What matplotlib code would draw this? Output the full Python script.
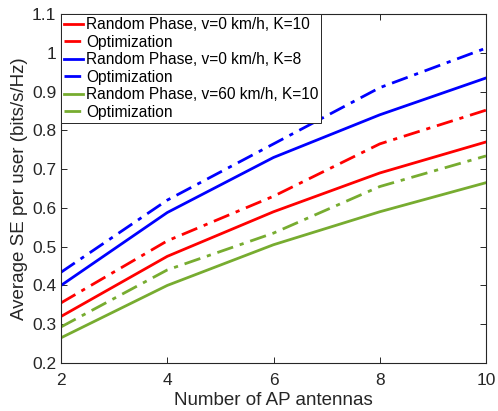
import matplotlib
matplotlib.use("Agg")
import matplotlib.pyplot as plt
import numpy as np

plt.rcParams['font.family'] = ['Liberation Sans', 'DejaVu Sans']

# data
antennas = [2, 4, 6, 8, 10]
rp_v0_k10 = [0.320, 0.475, 0.590, 0.690, 0.770]
opt_v0_k10 = [0.355, 0.515, 0.630, 0.765, 0.852]
rp_v0_k8 = [0.400, 0.588, 0.730, 0.840, 0.935]
opt_v0_k8 = [0.434, 0.620, 0.765, 0.910, 1.012]
rp_v60_k10 = [0.265, 0.400, 0.505, 0.590, 0.665]
opt_v60_k10 = [0.293, 0.440, 0.535, 0.655, 0.734]

labels = ["Random Phase, v=0 km/h, K=10", "Optimization",
          "Random Phase, v=0 km/h, K=8", "Optimization",
          "Random Phase, v=60 km/h, K=10", "Optimization"]

red = "#FF0000"
blue = "#0000FF"
green = "#77AC30"
axcol = "#262626"

fig = plt.figure(figsize=(4.98, 4.11), dpi=100)
ax = fig.add_axes([61/498, 1 - 363/411, 425/498, 349/411])

lw = 2.0
dashdot = (0, (6, 2.5, 1.5, 2.5))
ax.plot(antennas, rp_v0_k10, color=red, lw=lw, label=labels[0])
ax.plot(antennas, opt_v0_k10, color=red, lw=lw, ls=dashdot, label=labels[1])
ax.plot(antennas, rp_v0_k8, color=blue, lw=lw, label=labels[2])
ax.plot(antennas, opt_v0_k8, color=blue, lw=lw, ls=dashdot, label=labels[3])
ax.plot(antennas, rp_v60_k10, color=green, lw=lw, label=labels[4])
ax.plot(antennas, opt_v60_k10, color=green, lw=lw, ls=dashdot, label=labels[5])

ax.set_xlim(2, 10)
ax.set_ylim(0.2, 1.1)
ax.set_xticks([2, 4, 6, 8, 10])
ax.set_yticks(np.arange(0.2, 1.11, 0.1))
ax.set_yticklabels(["0.2", "0.3", "0.4", "0.5", "0.6", "0.7", "0.8", "0.9", "1", "1.1"])

ax.tick_params(direction="in", top=True, right=True, labelsize=12.5,
               colors=axcol, length=4, width=0.7)
ax.tick_params(axis="x", pad=7)
for sp in ax.spines.values():
    sp.set_color(axcol)
    sp.set_linewidth(0.8)

ax.set_xlabel("Number of AP antennas", fontsize=13.5, color=axcol, labelpad=3)
ax.set_ylabel("Average SE per user (bits/s/Hz)", fontsize=13.5, color=axcol, labelpad=3)

leg = ax.legend(loc="upper left", fontsize=11.2, frameon=True, fancybox=False,
                handlelength=1.2, handletextpad=0.2, borderpad=0.2,
                labelspacing=0.16, borderaxespad=0, framealpha=1)
leg.get_frame().set_edgecolor(axcol)
leg.get_frame().set_linewidth(0.7)

fig.savefig("out.png", dpi=100)
